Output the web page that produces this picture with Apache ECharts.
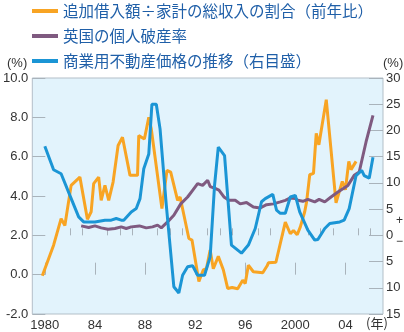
<!DOCTYPE html>
<html>
<head>
<meta charset="utf-8">
<script src="https://cdn.jsdelivr.net/npm/echarts@6/dist/echarts.min.js"></script>
<style>
  html, body { margin: 0; padding: 0; background: #ffffff; }
  #chart { width: 404px; height: 332px; }
</style>
</head>
<body>
<div id="chart"></div>
<script>
// Additional borrowing as a share of total household income (YoY, %), left axis
const borrowYears = [1979.8, 1980.7, 1981.3, 1981.6, 1982.1, 1982.8, 1983.4, 1983.7, 1983.9, 1984.3,
  1984.5, 1984.8, 1985.1, 1985.45, 1985.85, 1986.2, 1986.8, 1987.4, 1987.5, 1987.95,
  1988.3, 1988.5, 1989.35, 1989.75, 1990.05, 1990.6, 1990.8, 1991.5, 1991.75, 1992.3,
  1992.65, 1992.9, 1993.2, 1993.45, 1993.85, 1994.25, 1994.6, 1994.95, 1995.4, 1995.8,
  1996.0, 1996.25, 1996.65, 1997.4, 1997.75, 1997.85, 1998.45, 1999.2, 1999.6, 1999.85,
  2000.15, 2000.4, 2000.75, 2000.9, 2001.15, 2001.45, 2001.67, 2001.88, 2002.47, 2003.25,
  2003.75, 2004.0, 2004.27, 2004.45, 2004.85];
const borrowRatio = [-0.05, 1.5, 2.85, 2.5, 4.54, 4.96, 2.82, 3.2, 4.63, 4.96,
  3.78, 4.54, 3.78, 4.71, 6.57, 6.99, 5.05, 5.05, 7.07, 6.9,
  8.0, 7.41, 3.36, 5.3, 5.21, 3.78, 3.95, 1.84, 1.76, -0.35,
  0.24, 0.3, 1.25, 0.3, 0.93, 0.25, -0.7, -0.65, -0.72, -0.28,
  -0.45, 0.48, 0.15, 0.1, 0.45, 0.6, 0.63, 2.67, 2.08, 2.25,
  2.03, 2.43, 3.2, 3.7, 5.08, 5.15, 7.18, 6.6, 8.9, 3.65,
  4.74, 4.32, 5.76, 5.34, 5.76];

// UK personal insolvency rate (%), left axis
const insolvYears = [1982.9, 1983.5, 1984.0, 1984.5, 1985.05, 1985.6, 1986.1, 1986.5, 1986.9, 1987.55,
  1988.1, 1988.6, 1989.0, 1989.3, 1989.8, 1990.3, 1990.85, 1991.4, 1991.8, 1992.2,
  1992.6, 1993.0, 1993.2, 1993.6, 1993.9, 1994.3, 1994.7, 1995.2, 1995.6, 1996.1,
  1996.65, 1997.2, 1997.7, 1998.25, 1998.8, 1999.2, 1999.6, 2000.0, 2000.2, 2000.6,
  2001.0, 2001.55, 2001.9, 2002.35, 2002.85, 2003.4, 2003.8, 2004.2, 2004.7, 2005.1,
  2005.65, 2006.2];
const insolvRate = [2.48, 2.4, 2.48, 2.38, 2.31, 2.35, 2.43, 2.35, 2.43, 2.48,
  2.38, 2.43, 2.52, 2.38, 2.68, 3.02, 3.6, 3.95, 4.29, 4.63,
  4.54, 4.8, 4.48, 4.39, 4.3, 3.95, 3.78, 3.78, 3.6, 3.67,
  3.44, 3.39, 3.56, 3.6, 3.7, 3.78, 3.9, 3.87, 3.78, 3.73,
  3.83, 3.7, 3.83, 3.7, 3.95, 4.2, 4.37, 4.54, 5.05, 5.22,
  6.76, 8.1];

// Commercial property prices (YoY, %), right axis
const propYears = [1980.0, 1980.7, 1981.3, 1982.0, 1982.7, 1983.1, 1984.0, 1984.8, 1985.3, 1985.7,
  1986.1, 1986.3, 1986.9, 1987.3, 1987.6, 1987.9, 1988.3, 1988.55, 1988.9, 1989.2,
  1989.7, 1990.3, 1990.7, 1991.0, 1991.4, 1991.8, 1992.2, 1992.75, 1993.2, 1993.55,
  1993.85, 1994.35, 1994.9, 1995.7, 1996.25, 1996.8, 1997.3, 1997.6, 1998.2, 1998.5,
  1998.8, 1999.2, 1999.6, 2000.0, 2000.35, 2001.0, 2001.55, 2001.8, 2002.35, 2002.75,
  2003.55, 2003.9, 2004.3, 2004.85, 2005.3, 2005.5, 2005.9, 2006.2];
const propPrice = [17.0, 12.5, 11.75, 7.63, 3.51, 2.56, 2.56, 2.89, 2.89, 3.2,
  2.89, 2.89, 4.46, 5.1, 7.0, 12.7, 15.5, 25.0, 25.0, 20.3,
  5.73, -9.8, -11.0, -7.6, -6.0, -5.8, -7.6, -7.6, -4.1, 9.5,
  16.8, 15.2, -1.86, -3.4, -1.86, 1.3, 6.4, 7.0, 7.8, 4.8,
  4.2, 4.2, 7.3, 7.6, 4.46, 1.0, -0.9, -0.8, 1.3, 2.26,
  2.56, 2.89, 5.1, 11.4, 12.4, 11.4, 10.9, 14.9];

// Axis ticks and labels
const majorYears = [1980, 1984, 1988, 1992, 1996, 2000, 2004];
const yearLabels = ['1980', '84', '88', '92', '96', '2000', '04'];
const minorYears = [1981, 1982, 1983, 1985, 1986, 1987, 1989, 1990, 1991, 1993, 1994, 1995,
  1997, 1998, 1999, 2001, 2002, 2003, 2005, 2006];

const seriesNames = ['追加借入額÷家計の総収入の割合（前年比）', '英国の個人破産率', '商業用不動産価格の推移（右目盛）'];

const zip = (xs, ys) => xs.map((x, i) => [x, ys[i]]);

const tickColor = '#a9b3bb';
const labelFont = { fontFamily: 'Liberation Sans, Arial, sans-serif', fontSize: 13, color: '#333333' };

const chart = echarts.init(document.getElementById('chart'), null, { renderer: 'canvas' });

chart.setOption({
  animation: false,
  backgroundColor: '#ffffff',
  textStyle: { fontFamily: 'Liberation Sans, Arial, sans-serif' },
  grid: {
    left: 29, top: 78, width: 354, height: 237,
    show: true, backgroundColor: '#e2f3fc', borderColor: '#b3bfc8', borderWidth: 1
  },
  legend: {
    orient: 'vertical', left: 32, top: 2, padding: 0,
    icon: 'rect', itemWidth: 26, itemHeight: 4, itemGap: 7,
    selectedMode: false,
    textStyle: {
      fontFamily: 'Noto Sans CJK JP, sans-serif', fontSize: 15.5, lineHeight: 18,
      color: '#1f5fa8'
    },
    data: seriesNames
  },
  xAxis: [
    {
      type: 'value', min: 1979, max: 2007, position: 'bottom',
      axisLine: { show: false },
      splitLine: { show: false },
      axisTick: { show: true, inside: true, length: 12, customValues: majorYears,
        lineStyle: { color: tickColor, width: 1 } },
      axisLabel: Object.assign({ customValues: majorYears, margin: 5,
        formatter: v => yearLabels[majorYears.indexOf(v)] || '' }, labelFont)
    },
    {
      type: 'value', min: 1979, max: 2007, position: 'bottom',
      axisLine: { show: false },
      splitLine: { show: false },
      axisTick: { show: true, inside: true, length: 7, customValues: minorYears,
        lineStyle: { color: tickColor, width: 1 } },
      axisLabel: { show: false }
    }
  ],
  yAxis: [
    {
      type: 'value', min: -2, max: 10, interval: 2, position: 'left',
      axisLine: { show: false },
      splitLine: { show: false },
      axisTick: { show: true, inside: true, length: 13, lineStyle: { color: tickColor, width: 1 } },
      axisLabel: Object.assign({ margin: 4, formatter: v => v.toFixed(1) }, labelFont)
    },
    {
      type: 'value', min: -15, max: 30, interval: 5, position: 'right',
      axisLine: { show: false },
      splitLine: { show: false },
      axisTick: { show: true, inside: true, length: 14, lineStyle: { color: tickColor, width: 1 } },
      axisLabel: Object.assign({ margin: 3, formatter: v => String(Math.abs(v)) }, labelFont)
    }
  ],
  graphic: [
    { type: 'text', left: 7, top: 57, style: { text: '(%)', font: '13px Liberation Sans, Arial, sans-serif', fill: '#333' } },
    { type: 'text', left: 383, top: 57, style: { text: '(%)', font: '13px Liberation Sans, Arial, sans-serif', fill: '#333' } },
    { type: 'text', left: 366, top: 317, style: { text: '(年)', font: '13px Noto Sans CJK JP, sans-serif', fill: '#333' } },
    { type: 'text', left: 396, top: 215, style: { text: '+', font: '12px Liberation Sans, Arial, sans-serif', fill: '#333' } },
    { type: 'text', left: 396, top: 236, style: { text: '−', font: '12px Liberation Sans, Arial, sans-serif', fill: '#333' } }
  ],
  series: [
    {
      name: seriesNames[0], type: 'line', xAxisIndex: 0, yAxisIndex: 0,
      data: zip(borrowYears, borrowRatio), showSymbol: false, symbol: 'none',
      lineStyle: { color: '#f8a423', width: 3 }, itemStyle: { color: '#f8a423' }
    },
    {
      name: seriesNames[1], type: 'line', xAxisIndex: 0, yAxisIndex: 0,
      data: zip(insolvYears, insolvRate), showSymbol: false, symbol: 'none',
      lineStyle: { color: '#7f5a80', width: 3 }, itemStyle: { color: '#7f5a80' }
    },
    {
      name: seriesNames[2], type: 'line', xAxisIndex: 0, yAxisIndex: 1,
      data: zip(propYears, propPrice), showSymbol: false, symbol: 'none',
      lineStyle: { color: '#1b95d5', width: 3 }, itemStyle: { color: '#1b95d5' }
    }
  ]
});
</script>
</body>
</html>
